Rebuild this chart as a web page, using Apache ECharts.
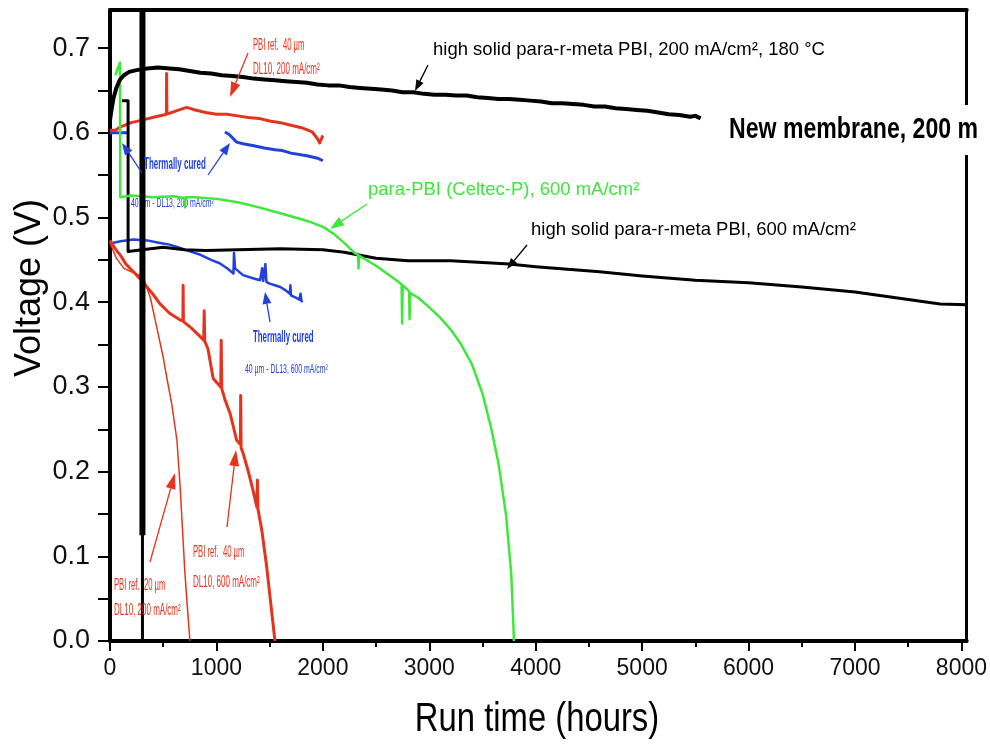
<!DOCTYPE html>
<html><head><meta charset="utf-8">
<script src="https://cdn.jsdelivr.net/npm/echarts@6/dist/echarts.min.js"></script>
<style>html,body{margin:0;padding:0;background:#fff}#c{width:990px;height:745px}</style>
</head><body><div id="c"></div>
<script>
// ---------- axis ticks ----------
const xMajorTicks = [0,1000,2000,3000,4000,5000,6000,7000,8000];
const xMinorTicks = [500,1500,2500,3500,4500,5500,6500,7500];
const yLabelTicks = [0,0.1,0.2,0.3,0.4,0.5,0.6,0.7];
const yAllTicks = [0,0.05,0.1,0.15,0.2,0.25,0.3,0.35,0.4,0.45,0.5,0.55,0.6,0.65,0.7];

// ---------- series data: [hours, volts] ----------
const black200 = [[0,0.615],[15,0.628],[35,0.642],[60,0.653],[90,0.662],[130,0.668],[180,0.672],[250,0.674],[350,0.676],[450,0.677],[560,0.676],[650,0.675],[750,0.673],[850,0.671],[950,0.670],[1050,0.668],[1150,0.667],[1250,0.666],[1350,0.664],[1450,0.663],[1550,0.662],[1650,0.661],[1750,0.660],[1850,0.659],[1950,0.657],[2050,0.656],[2150,0.656],[2250,0.654],[2350,0.653],[2450,0.652],[2550,0.651],[2650,0.650],[2750,0.648],[2850,0.648],[2950,0.646],[3050,0.645],[3150,0.645],[3250,0.644],[3350,0.644],[3450,0.642],[3550,0.641],[3650,0.640],[3750,0.640],[3850,0.639],[3950,0.638],[4050,0.637],[4150,0.635],[4250,0.635],[4350,0.634],[4450,0.633],[4550,0.631],[4650,0.631],[4750,0.629],[4850,0.628],[4950,0.627],[5050,0.626],[5150,0.624],[5250,0.622],[5350,0.621],[5450,0.619],[5500,0.620],[5550,0.617]];
const black600 = [[113,0.638],[170,0.638],[170,0.460],[300,0.462],[500,0.465],[700,0.462],[900,0.461],[1200,0.462],[1600,0.463],[2000,0.462],[2200,0.459],[2500,0.452],[2800,0.449],[3200,0.449],[3500,0.447],[3750,0.445],[4000,0.442],[4600,0.436],[5000,0.431],[5500,0.426],[6000,0.423],[6500,0.418],[7000,0.412],[7400,0.405],[7800,0.398],[8050,0.397]];
const greenCeltec = [[50,0.668],[70,0.675],[94,0.683],[96,0.524],[200,0.526],[400,0.524],[600,0.525],[700,0.523],[705,0.512],[710,0.524],[800,0.524],[1000,0.522],[1200,0.518],[1400,0.512],[1600,0.505],[1800,0.498],[1900,0.494],[2000,0.489],[2100,0.481],[2200,0.470],[2300,0.458],[2330,0.456],[2335,0.440],[2340,0.455],[2500,0.443],[2700,0.425],[2740,0.421],[2745,0.375],[2750,0.420],[2810,0.413],[2815,0.380],[2820,0.411],[2900,0.405],[3000,0.394],[3100,0.382],[3200,0.368],[3300,0.350],[3400,0.327],[3500,0.292],[3580,0.252],[3650,0.210],[3720,0.150],[3770,0.080],[3790,0.020],[3795,0.0]];
const red200_40 = [[0,0.603],[50,0.603],[100,0.607],[200,0.612],[300,0.615],[400,0.618],[500,0.621],[530,0.622],[532,0.670],[535,0.622],[650,0.627],[720,0.630],[800,0.627],[900,0.624],[1000,0.622],[1100,0.622],[1200,0.620],[1300,0.618],[1400,0.617],[1500,0.614],[1600,0.612],[1700,0.609],[1800,0.606],[1900,0.601],[1950,0.593],[1970,0.588],[2000,0.597]];
const blue200 = [[0,0.600],[160,0.600],null,[1080,0.601],[1120,0.598],[1190,0.589],[1250,0.587],[1340,0.585],[1450,0.582],[1550,0.580],[1620,0.579],[1700,0.576],[1850,0.573],[1950,0.570],[2000,0.567]];
const blue600 = [[20,0.470],[100,0.472],[220,0.474],[350,0.473],[470,0.470],[560,0.468],[660,0.464],[750,0.460],[850,0.456],[950,0.450],[1030,0.446],[1100,0.440],[1160,0.434],[1165,0.458],[1175,0.440],[1250,0.432],[1350,0.428],[1410,0.426],[1430,0.440],[1440,0.425],[1460,0.445],[1470,0.424],[1500,0.422],[1550,0.420],[1600,0.418],[1650,0.414],[1690,0.410],[1695,0.420],[1700,0.408],[1750,0.405],[1780,0.403],[1790,0.410],[1800,0.401],[1810,0.402]];
const red600_40 = [[0,0.473],[50,0.463],[100,0.455],[150,0.445],[220,0.436],[300,0.425],[400,0.410],[470,0.398],[560,0.387],[660,0.379],[685,0.378],[687,0.420],[690,0.377],[760,0.370],[850,0.359],[880,0.355],[885,0.390],[890,0.354],[920,0.345],[970,0.310],[1040,0.300],[1045,0.355],[1050,0.298],[1080,0.285],[1130,0.268],[1190,0.237],[1225,0.232],[1228,0.290],[1232,0.228],[1250,0.222],[1300,0.200],[1340,0.180],[1380,0.158],[1385,0.190],[1390,0.156],[1426,0.131],[1470,0.090],[1510,0.045],[1550,0.0]];
const red200_20 = [[0,0.470],[60,0.452],[130,0.440],[200,0.436],[310,0.430],[380,0.405],[440,0.370],[500,0.335],[535,0.310],[580,0.280],[629,0.237],[660,0.180],[704,0.080],[730,0.035],[751,0.0]];
const markerBar = [[305,0],[305,0.745]];
const markerBarThick = [[305,0.125],[305,0.745]];

const RED = '#e5341e', BLUE = '#2140dc', GREEN = '#3de83a', BLACK = '#000';

function line(name, data, color, width, z) {
  return { name, type: 'line', data, showSymbol: false, symbol: 'none', connectNulls: false,
    lineStyle: { color, width, join: 'round' }, itemStyle: { color }, z: z || 2, animation: false };
}

function txt(x, y, text, o) {
  o = o || {};
  return { type: 'text', x, y, scaleX: o.sx || 1, rotation: o.rot || 0, z: o.z == null ? 10 : o.z,
    style: { text, fill: o.color || '#000', font: (o.bold ? 'bold ' : '') + (o.size || 16) + 'px ' + (o.family || '"Liberation Sans", Arial, sans-serif'),
      align: o.align || 'left', verticalAlign: 'middle' } };
}
function arrow(x1, y1, x2, y2, color, L, W) {
  const dx = x2 - x1, dy = y2 - y1, len = Math.hypot(dx, dy);
  const ux = dx / len, uy = dy / len, nx = -uy, ny = ux;
  const bx = x2 - ux * L, by = y2 - uy * L;
  return { type: 'group', z: 10, children: [
    { type: 'line', z: 10, shape: { x1, y1, x2: bx, y2: by }, style: { stroke: color, lineWidth: 1.3 } },
    { type: 'polygon', z: 10, shape: { points: [[x2, y2], [bx + nx * W, by + ny * W], [bx - nx * W, by - ny * W]] }, style: { fill: color } }
  ] };
}

const chart = echarts.init(document.getElementById('c'), null, { renderer: 'canvas' });
const axisFont = '"Liberation Sans", Arial, sans-serif';

chart.setOption({
  animation: false,
  backgroundColor: '#fff',
  grid: { left: 110, right: 22, top: 10, bottom: 104, containLabel: false },
  xAxis: [
    { type: 'value', min: 0, max: 8050, interval: 1000, position: 'bottom',
      axisLine: { show: true, onZero: false, lineStyle: { color: '#000', width: 4 } },
      axisTick: { show: true, inside: false, length: 10, customValues: xMajorTicks, lineStyle: { color: '#000', width: 2 } },
      axisLabel: { show: true, customValues: xMajorTicks, margin: 16, fontSize: 23, color: '#111', fontFamily: axisFont,
        formatter: v => String(v) },
      splitLine: { show: false } },
    { type: 'value', min: 0, max: 8050, position: 'top',
      axisLine: { show: true, onZero: false, lineStyle: { color: '#000', width: 4 } },
      axisTick: { show: false }, axisLabel: { show: false }, splitLine: { show: false } },
    { type: 'value', min: 0, max: 8050, position: 'bottom',
      axisLine: { show: false }, axisLabel: { show: false }, splitLine: { show: false },
      axisTick: { show: true, length: 6, customValues: xMinorTicks, lineStyle: { color: '#000', width: 2 } } }
  ],
  yAxis: [
    { type: 'value', min: 0, max: 0.745, position: 'left',
      axisLine: { show: true, onZero: false, lineStyle: { color: '#000', width: 4 } },
      axisTick: { show: true, length: 12, customValues: yAllTicks, lineStyle: { color: '#000', width: 2 } },
      axisLabel: { show: true, customValues: yLabelTicks, margin: 20, fontSize: 27, color: '#111', fontFamily: axisFont,
        formatter: v => v.toFixed(1) },
      splitLine: { show: false } },
    { type: 'value', min: 0, max: 0.745, position: 'right',
      axisLine: { show: true, onZero: false, lineStyle: { color: '#000', width: 3 } },
      axisTick: { show: false }, axisLabel: { show: false }, splitLine: { show: false } }
  ],
  series: [
    line('Thermally cured 40 µm DL13 200 mA/cm²', blue200, BLUE, 3),
    line('PBI ref. 40 µm DL10 200 mA/cm²', red200_40, RED, 3),
    line('Thermally cured 40 µm DL13 600 mA/cm²', blue600, BLUE, 2.5),
    line('PBI ref. 40 µm DL10 600 mA/cm²', red600_40, RED, 3),
    line('PBI ref. 20 µm DL10 200 mA/cm²', red200_20, RED, 1.5),
    line('high solid para-r-meta PBI, 600 mA/cm²', black600, BLACK, 3),
    line('para-PBI (Celtec-P), 600 mA/cm²', greenCeltec, GREEN, 2.5),
    line('high solid para-r-meta PBI, 200 mA/cm², 180 °C', black200, BLACK, 4),
    line('marker', markerBar, BLACK, 3, 3),
    line('marker thick', markerBarThick, BLACK, 6, 3)
  ],
  graphic: [
    // axis names
    txt(30, 288, 'Voltage (V)', { size: 36, rot: Math.PI / 2, align: 'center' }),
    txt(537, 720, 'Run time (hours)', { size: 40, sx: 0.82, align: 'center' }),
    // annotations
    txt(433, 50, 'high solid para-r-meta PBI, 200 mA/cm², 180 °C', { size: 18.5 }),
    arrow(428, 65, 415, 91, BLACK, 11, 4),
    txt(253, 46, 'PBI ref.  40 µm', { size: 16, sx: 0.48, color: RED }),
    txt(253, 70, 'DL10, 200 mA/cm²', { size: 16, sx: 0.5, color: RED }),
    arrow(248, 53, 230, 97, RED, 15, 5),
    txt(144, 165, 'Thermally cured', { size: 16, bold: true, sx: 0.5, color: BLUE }),
    txt(131, 203, '40 µm - DL13, 200 mA/cm²', { size: 13, sx: 0.53, color: BLUE, z: 0 }),
    arrow(142, 173, 122, 143, BLUE, 12, 4.5),
    arrow(208, 175, 230, 143, BLUE, 12, 4.5),
    txt(368, 190, 'para-PBI (Celtec-P), 600 mA/cm²', { size: 18.5, color: GREEN }),
    arrow(367, 204, 330, 229, GREEN, 14, 5),
    txt(531, 230, 'high solid para-r-meta PBI, 600 mA/cm²', { size: 18.5 }),
    arrow(527, 245, 507, 269, BLACK, 11, 4),
    txt(253, 338, 'Thermally cured', { size: 16, bold: true, sx: 0.49, color: BLUE }),
    txt(245, 369, '40 µm - DL13, 600 mA/cm²', { size: 13, sx: 0.53, color: BLUE }),
    arrow(270, 322, 265, 292, BLUE, 12, 4.5),
    txt(193, 553, 'PBI ref.  40 µm', { size: 16, sx: 0.48, color: RED }),
    txt(193, 583, 'DL10, 600 mA/cm²', { size: 16, sx: 0.5, color: RED }),
    arrow(227, 527, 236, 450, RED, 16, 5),
    txt(114, 586, 'PBI ref.  20 µm', { size: 16, sx: 0.48, color: RED }),
    txt(114, 611, 'DL10, 200 mA/cm²', { size: 16, sx: 0.5, color: RED }),
    arrow(150, 562, 175, 473, RED, 16, 5),
    // overlaid label box
    { type: 'rect', z: 50, shape: { x: 718, y: 105, width: 280, height: 50 }, style: { fill: '#fff' } },
    txt(729, 130, 'New membrane, 200 m', { size: 30, bold: true, sx: 0.77, z: 51 })
  ]
});
</script></body></html>
